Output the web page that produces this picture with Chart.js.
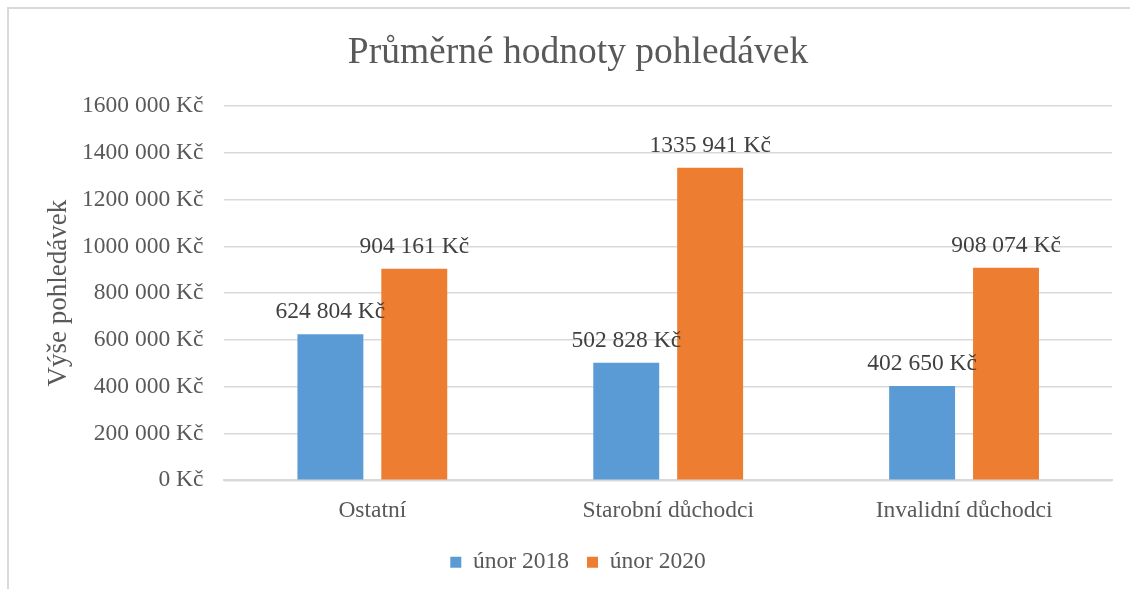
<!DOCTYPE html>
<html lang="cs">
<head>
  <meta charset="UTF-8">
  <title>Průměrné hodnoty pohledávek</title>
  <style>
    html, body { margin: 0; padding: 0; background: #fff; overflow: hidden; }
    #ramecek {
      position: absolute; left: 7px; top: 7px;
      width: 1140px; height: 600px;
      border: 2px solid #d9d9d9;
    }
    #obal { position: absolute; left: 0; top: 0; width: 1130px; height: 589px; }
  </style>
</head>
<body>
  <div id="ramecek"></div>
  <div id="obal">
    <canvas id="graf"></canvas>
  </div>

  <script src="https://cdn.jsdelivr.net/npm/chart.js"></script>
  <script>
    // data
    const kategorie = ['Ostatní', 'Starobní důchodci', 'Invalidní důchodci'];
    const unor2018 = [624804, 502828, 402650];
    const unor2020 = [904161, 1335941, 908074];
    const nazvyRad = ['únor 2018', 'únor 2020'];

    const pismo = '"Liberation Serif", "Times New Roman", serif';
    const seda = '#595959';

    // formát jako v Excelu: "# ##0 Kč"
    function kc(v) {
      v = Math.round(v);
      if (v < 1000) return v + ' Kč';
      const tis = Math.floor(v / 1000);
      const zbytek = String(v % 1000).padStart(3, '0');
      return tis + ' ' + zbytek + ' Kč';
    }

    // popisky hodnot nad sloupci
    const popisky = {
      id: 'popisky',
      afterDatasetsDraw(chart) {
        const ctx = chart.ctx;
        ctx.save();
        ctx.font = '23.5px ' + pismo;
        ctx.fillStyle = '#404040';
        ctx.textAlign = 'center';
        ctx.textBaseline = 'alphabetic';
        chart.data.datasets.forEach((ds, i) => {
          chart.getDatasetMeta(i).data.forEach((bar, j) => {
            ctx.fillText(kc(ds.data[j]), bar.x, bar.y - 16);
          });
        });
        ctx.restore();
      }
    };

    window.onload = function() {
      const ctx = document.getElementById('graf').getContext('2d');
      new Chart(ctx, {
        type: 'bar',
        data: {
          labels: kategorie,
          datasets: [
            { label: nazvyRad[0], data: unor2018, backgroundColor: '#5b9bd5' },
            { label: nazvyRad[1], data: unor2020, backgroundColor: '#ed7d31' }
          ]
        },
        options: {
          responsive: true,
          maintainAspectRatio: false,
          animation: false,
          categoryPercentage: 0.567,
          barPercentage: 0.786,
          layout: { padding: { top: 31, right: 18, left: 44, bottom: 5 } },
          plugins: {
            title: {
              display: true,
              text: 'Průměrné hodnoty pohledávek',
              color: seda,
              font: { family: pismo, size: 37.5, weight: 'normal' },
              padding: { top: 0, bottom: 30 }
            },
            legend: {
              position: 'bottom',
              labels: {
                color: seda,
                font: { family: pismo, size: 23.5 },
                boxWidth: 11,
                boxHeight: 11,
                padding: 18
              }
            },
            tooltip: { enabled: false }
          },
          scales: {
            x: {
              grid: { display: false },
              border: { color: '#d9d9d9', width: 2 },
              ticks: { color: seda, font: { family: pismo, size: 23.5 }, padding: 8 }
            },
            y: {
              min: 0,
              max: 1600000,
              ticks: {
                stepSize: 200000,
                color: seda,
                font: { family: pismo, size: 23.5 },
                padding: 21,
                callback: v => kc(v)
              },
              grid: { color: '#d9d9d9', lineWidth: 1.5, drawTicks: false },
              border: { display: false },
              title: {
                display: true,
                text: 'Výše pohledávek',
                color: seda,
                font: { family: pismo, size: 27, lineHeight: 1 },
                padding: { top: 1.5, bottom: -11.5 }
              }
            }
          }
        },
        plugins: [popisky]
      });
    };
  </script>
</body>
</html>
